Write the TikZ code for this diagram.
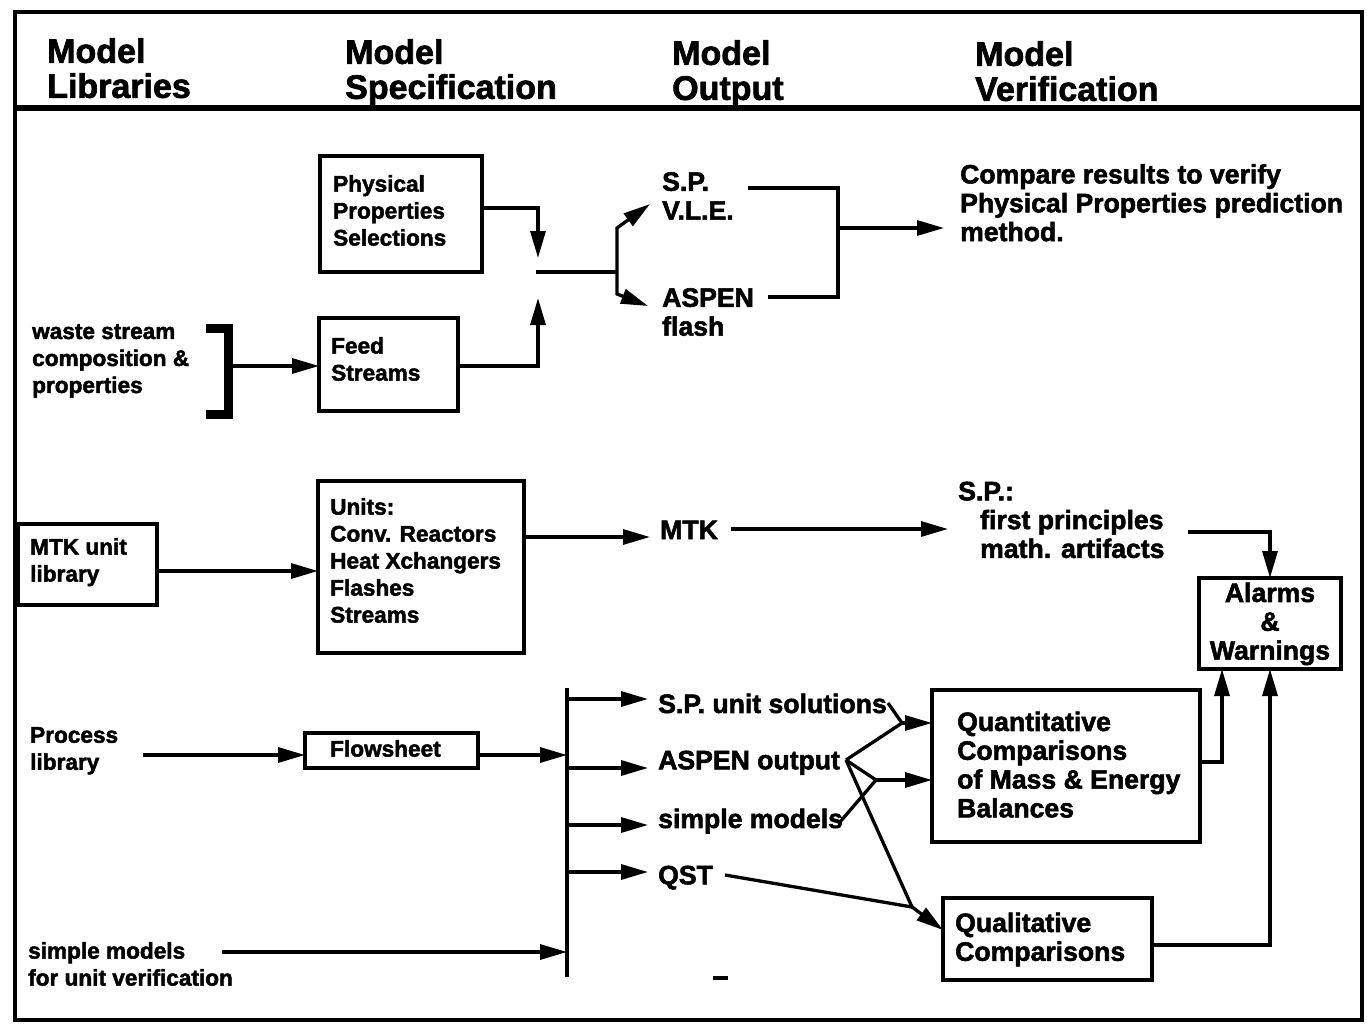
\documentclass[tikz,border=0pt]{standalone}
\usepackage{fontspec}
\setmainfont{Liberation Sans}[BoldFeatures={FakeBold=2}]
\usetikzlibrary{arrows.meta}
\begin{document}
\begin{tikzpicture}[x=1pt,y=-1pt,
  ln/.style={line width=3.3pt},
  arr/.style={ln,-{Triangle[length=27pt,width=15pt]}},
  box/.style={draw,line width=3.3pt,inner sep=0,outer sep=0,anchor=north west},
  hdr/.style={inner sep=0,anchor=north west,align=left,font=\fontsize{34}{35}\selectfont\bfseries},
  sm/.style={inner sep=0,anchor=north west,align=left,font=\fontsize{22.6}{27}\selectfont\bfseries},
  lg/.style={inner sep=0,anchor=north west,align=left,font=\fontsize{26.6}{28.8}\selectfont\bfseries},
]
\useasboundingbox (0,0) rectangle (1368,1023);
\fill[white] (0,0) rectangle (1368,1023);
\draw[line width=3.5pt] (15,12) rectangle (1362,1020);
\draw[line width=6.5pt] (15,108) -- (1362,108);

% headers
\node[hdr] (h1) at (47,38) {Model\\Libraries};
\node[hdr] (h2) at (345,39) {Model\\Specification};
\node[hdr] (h3) at (672,40) {Model\\Output};
\node[hdr] (h4) at (975,41) {Model\\Verification};

% top section
\node[box,minimum width=162pt,minimum height=116pt] (pps) at (320,156) {};
\node[sm] (ppst) at (333,175) {Physical\\Properties\\Selections};
\node[box,minimum width=139pt,minimum height=93pt] (feed) at (319,318) {};
\node[sm] (feedt) at (331,337) {Feed\\Streams};
\node[sm] (waste) at (32,324) {waste stream\\composition \&\\properties};
\draw[line width=9pt] (206,328) -- (228,328) -- (228,414) -- (206,414);
\coordinate (br) at (233,366);
\draw[arr] (br) -- (feed.west |- br);

\coordinate (jt) at (538,258);
\coordinate (jb) at (538,298);
\coordinate (jm) at (536,272);
\coordinate (fk) at (617,272);
\draw[arr] (pps.east |- 0,208) -| (jt);
\draw[arr] (feed.east |- 0,366) -| (jb);
\draw[ln] (jm) -- (fk);
\draw[arr] (fk) -- (617,228) -- (650,204);
\draw[arr] (fk) -- (617,294) -- (648,306);

\node[lg] (spv) at (662,172) {S.P.\\V.L.E.};
\node[lg] (asp) at (662,288) {ASPEN\\flash};
\coordinate (c1) at (748,188);
\coordinate (c2) at (768,297);
\coordinate (mg) at (838,228);
\coordinate (cmpin) at (944,228);
\draw[ln] (c1) -- (838,188) -- (838,297) -- (c2);
\draw[arr] (mg) -- (cmpin);
\node[lg] (cmp) at (960,164) {Compare results to verify\\Physical Properties prediction\\method.};

% middle section
\node[box,minimum width=139pt,minimum height=81pt] (mtkb) at (18,524) {};
\node[sm] (mtkbt) at (30,538) {MTK unit\\library};
\node[box,minimum width=206pt,minimum height=172pt] (units) at (318,481) {};
\node[sm] (unitst) at (330,498) {Units:\\Conv. Reactors\\Heat Xchangers\\Flashes\\Streams};
\draw[arr] (mtkb.east |- 0,571) -- (units.west |- 0,571);
\node[lg] (mtk) at (660,520.5) {MTK};
\coordinate (mtkin) at (650,537);
\draw[arr] (units.east |- mtkin) -- (mtkin);
\coordinate (mtkout) at (731,529);
\coordinate (spin) at (948,529);
\draw[arr] (mtkout) -- (spin);
\node[lg] (spfp) at (958,481.5) {S.P.:\\\hspace*{22pt}first principles\\\hspace*{22pt}math. artifacts};
\node[box,minimum width=142pt,minimum height=91pt] (alarm) at (1199,578) {};
\node[lg,align=center,anchor=north] (alarmt) at (1270,582.5) {Alarms\\\&\\Warnings};
\coordinate (spout) at (1188,532);
\draw[arr] (spout) -| (alarm.north);

% bottom section
\node[sm] (proc) at (30,727) {Process\\library};
\node[box,minimum width=173pt,minimum height=35pt] (flow) at (305,733) {};
\node[sm] (flowt) at (330,740) {Flowsheet};
\coordinate (procout) at (143,755);
\draw[arr] (procout) -- (flow.west |- procout);
\coordinate (bt) at (567,688);
\coordinate (bb) at (567,977);
\draw[ln] (bt) -- (bb);
\draw[arr] (flow.east |- 0,755) -- (bb |- 0,755);
\draw[arr] (bt |- 0,699) -- (648,699);
\draw[arr] (bt |- 0,768) -- (648,768);
\draw[arr] (bt |- 0,825) -- (648,825);
\draw[arr] (bt |- 0,872) -- (648,872);
\node[sm] (smv) at (28,942) {simple models\\for unit verification};
\coordinate (smvout) at (222,952);
\draw[arr] (smvout) -- (bb |- smvout);

\node[lg] (o1) at (658,693.5) {S.P. unit solutions};
\node[lg] (o2) at (658,750.5) {ASPEN output};
\node[lg] (o3) at (658,808.5) {simple models};
\node[lg] (o4) at (658,865.5) {QST};

\node[box,minimum width=268pt,minimum height=152pt] (quant) at (932,690) {};
\node[lg] (quantt) at (957,711.5) {Quantitative\\Comparisons\\of Mass \& Energy\\Balances};
\node[box,minimum width=209pt,minimum height=82pt] (qual) at (943,898) {};
\node[lg] (qualt) at (955,912.5) {Qualitative\\Comparisons};

\coordinate (a1) at (888,703);
\coordinate (a2) at (846,760);
\coordinate (a3) at (840,822);
\coordinate (a4) at (725,875);
\coordinate (j1) at (902,723);
\coordinate (j2) at (876,780);
\coordinate (j3) at (912,907);
\coordinate (qin) at (943,930);
\draw[ln] (a1) -- (j1);
\draw[ln] (a2) -- (j1);
\draw[arr] (j1) -- (quant.west |- j1);
\draw[ln] (a2) -- (j2);
\draw[ln] (a3) -- (j2);
\draw[arr] (j2) -- (quant.west |- j2);
\draw[ln] (a2) -- (j3);
\draw[ln] (a4) -- (j3);
\draw[arr] (j3) -- (qin);

\draw[arr] (quant.east |- 0,762) -| ([xshift=-48pt]alarm.south);
\draw[arr] (qual.east |- 0,945) -| (alarm.south);

\draw[ln] (713,978) -- (728,978);
\end{tikzpicture}
\end{document}
